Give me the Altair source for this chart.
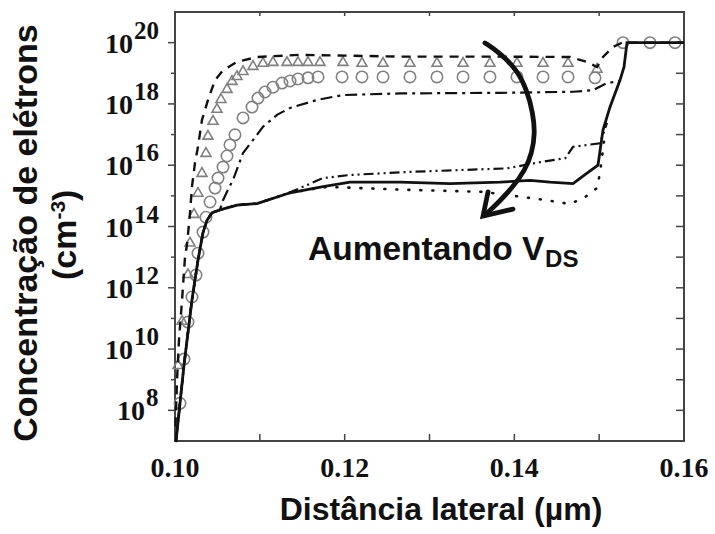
import altair as alt
import pandas as pd

# ---------------- data ----------------
X_DOMAIN = [0.10, 0.16]
Y_DOMAIN = [1e7, 1e21]
W, H = 509, 429

solid_x = [0.10012, 0.10106, 0.10200, 0.10271, 0.10330, 0.10377, 0.10436, 0.10530, 0.10731,
           0.10967, 0.11356, 0.11745, 0.12063, 0.12652, 0.13242, 0.13831, 0.14185, 0.14420,
           0.14692, 0.14857, 0.14986, 0.15045, 0.15128, 0.15246, 0.15293, 0.15328, 0.16000]
solid_n = [1.0e7, 3e9, 4e11, 8e12, 6.3e13, 1.6e14, 2.8e14, 3.5e14, 5.0e14,
           5.6e14, 1.26e15, 2.0e15, 2.8e15, 2.8e15, 2.5e15, 2.8e15, 3.2e15, 2.8e15,
           2.5e15, 5.5e15, 1.0e16, 1.4e17, 8e17, 6e18, 1.6e19, 1.0e20, 1.0e20]

dotted_x = [0.10012, 0.10106, 0.10200, 0.10271, 0.10330, 0.10377, 0.10436, 0.10530, 0.10731,
            0.10967, 0.11356, 0.11745, 0.11945, 0.12652, 0.13631, 0.14385, 0.14656, 0.14833,
            0.14975, 0.15010, 0.15069]
dotted_n = [1.0e7, 3e9, 4e11, 8e12, 6.3e13, 1.6e14, 2.8e14, 3.5e14, 5.0e14,
            5.6e14, 1.26e15, 1.9e15, 1.9e15, 1.6e15, 1.35e15, 7.2e14, 5.4e14, 9.1e14,
            1.8e15, 5.6e15, 1.1e17]

dashdotdot_x = [0.10012, 0.10106, 0.10200, 0.10271, 0.10330, 0.10377, 0.10436, 0.10530, 0.10731,
                0.10967, 0.11356, 0.11745, 0.12063, 0.12735, 0.13914, 0.14303, 0.14600, 0.14692,
                0.15010, 0.15092]
dashdotdot_n = [1.0e7, 3e9, 4e11, 8e12, 6.3e13, 1.6e14, 2.8e14, 3.5e14, 5.0e14,
                5.6e14, 1.3e15, 3.8e15, 4.8e15, 6.0e15, 7.9e15, 1.26e16, 1.7e16, 4.0e16,
                5.2e16, 2.4e17]

dashdot_x = [0.10012, 0.10106, 0.10200, 0.10271, 0.10330, 0.10377, 0.10436, 0.10530, 0.10566,
             0.10625, 0.10684, 0.10802, 0.10919, 0.11037, 0.11202, 0.11356, 0.11674, 0.11980,
             0.12652, 0.13831, 0.14692, 0.14927, 0.15092, 0.15246]
dashdot_n = [1.0e7, 3e9, 4e11, 8e12, 6.3e13, 1.6e14, 2.8e14, 3.5e14, 7.2e14,
             1.6e15, 3.3e15, 2.5e16, 6.6e16, 1.8e17, 4.4e17, 7.4e17, 1.35e18, 1.95e18,
             2.2e18, 2.3e18, 2.5e18, 2.8e18, 4.8e18, 5.6e18]

dashed_x = [0.10006, 0.10024, 0.10047, 0.10083, 0.10118, 0.10141, 0.10177, 0.10200, 0.10236,
            0.10271, 0.10318, 0.10389, 0.10472, 0.10566, 0.10731, 0.10967, 0.11474, 0.12652,
            0.13831, 0.14656, 0.14857, 0.14975, 0.15045, 0.15163, 0.15269, 0.16000]
dashed_n = [3e7, 1e9, 2e10, 4e11, 1e13, 2.5e13, 2.75e14, 2.0e15, 1.2e16,
            4.0e16, 3.0e17, 1.35e18, 6.0e18, 1.26e19, 2.35e19, 3.4e19, 4.0e19, 3.5e19,
            3.5e19, 3.4e19, 2.35e19, 1.6e19, 3.4e19, 7.2e19, 1.0e20, 1.0e20]

circle_x = [0.10059, 0.10106, 0.10153, 0.10200, 0.10248, 0.10271, 0.10330, 0.10365, 0.10413,
            0.10472, 0.10507, 0.10566, 0.10613, 0.10648, 0.10707, 0.10802, 0.10908, 0.10978,
            0.11061, 0.11155, 0.11261, 0.11356, 0.11450, 0.11568, 0.11686, 0.11969, 0.12204,
            0.12452, 0.12770, 0.13088, 0.13395, 0.13713, 0.14031, 0.14338, 0.14633, 0.14951,
            0.15281, 0.15599, 0.15894]
circle_n = [1.7e8, 4.7e9, 7.6e10, 5.0e11, 2.6e12, 1.35e13, 6.6e13, 2.0e14, 6.3e14,
            1.8e15, 3.8e15, 8.7e15, 2.0e16, 4.6e16, 9.8e16, 3.5e17, 7.9e17, 1.55e18,
            2.45e18, 3.5e18, 4.8e18, 5.6e18, 6.5e18, 7.1e18, 7.6e18, 7.6e18, 7.6e18,
            7.6e18, 7.6e18, 7.6e18, 7.6e18, 7.6e18, 7.6e18, 7.6e18, 7.6e18, 7.1e18,
            1.0e20, 1.0e20, 1.0e20]

tri_x = [0.10035, 0.10083, 0.10153, 0.10177, 0.10224, 0.10271, 0.10318, 0.10365, 0.10389,
         0.10448, 0.10495, 0.10542, 0.10613, 0.10672, 0.10731, 0.10802, 0.10919, 0.11037,
         0.11155, 0.11320, 0.11450, 0.11568, 0.11709, 0.11980, 0.12204, 0.12452, 0.12770,
         0.13088, 0.13395, 0.13713, 0.14031, 0.14338, 0.14633, 0.14975]
tri_n = [3.2e9, 8.9e10, 3.0e12, 3.2e13, 2.75e14, 1.35e15, 6.0e15, 2.7e16, 9.8e16,
         3.0e17, 7.4e17, 1.55e18, 3.3e18, 6.0e18, 8.7e18, 1.26e19, 1.86e19, 2.35e19,
         2.5e19, 2.5e19, 2.5e19, 2.5e19, 2.5e19, 2.5e19, 2.35e19, 2.35e19, 2.35e19,
         2.35e19, 2.35e19, 2.35e19, 2.35e19, 2.35e19, 2.35e19, 1.5e19]

arrow_x = [0.13654, 0.13831, 0.14031, 0.14149, 0.14220, 0.14244, 0.14208, 0.14126, 0.13984,
           0.13808, 0.13654]
arrow_n = [9.8e19, 4.6e19, 1.3e19, 2.8e18, 5.0e17, 1.1e17, 2.5e16, 6.9e15, 1.95e15,
           5.9e14, 2.35e14]
head_x = [0.13690, 0.13631, 0.13984]
head_n = [1.35e15, 2.2e14, 3.7e14]

annot_x = [0.11568, 0.14362]
annot_n = [8.05e12, 4.76e12]
annot_text = ["Aumentando V", "DS"]

x_ticks = [0.10, 0.11, 0.12, 0.13, 0.14, 0.15, 0.16]
x_labels = ["0.10", "", "0.12", "", "0.14", "", "0.16"]
y_decades = [1e8, 1e9, 1e10, 1e11, 1e12, 1e13, 1e14, 1e15, 1e16, 1e17, 1e18, 1e19, 1e20]
y_major = [True, False, True, False, True, False, True, False, True, False, True, False, True]
ylab_vals = [1e8, 1e10, 1e12, 1e14, 1e16, 1e18, 1e20]
ylab_exp = ["8", "10", "12", "14", "16", "18", "20"]

# ---------------- chart ----------------
xs = alt.Scale(domain=X_DOMAIN, nice=False, zero=False)
ys = alt.Scale(type="log", domain=Y_DOMAIN, nice=False)
X = lambda f="x": alt.X(f"{f}:Q", scale=xs, axis=None)
Y = lambda f="n": alt.Y(f"{f}:Q", scale=ys, axis=None)
INK = "#111111"
FRAME = "#444444"


def line_layer(xv, nv, width=2.2, dash=None, interp="linear", cap="butt"):
    df = pd.DataFrame({"x": xv, "n": nv, "o": list(range(len(xv)))})
    kw = dict(color=INK, strokeWidth=width, strokeCap=cap, interpolate=interp)
    if dash:
        kw["strokeDash"] = dash
    return alt.Chart(df).mark_line(**kw).encode(x=X(), y=Y(), order="o:Q")


def pts_layer(xv, nv, shape, size):
    df = pd.DataFrame({"x": xv, "n": nv})
    return alt.Chart(df).mark_point(shape=shape, size=size, filled=False,
                                    color="#808080", strokeWidth=1.6,
                                    opacity=1).encode(x=X(), y=Y())


xt = pd.DataFrame({"x": x_ticks, "lab": x_labels})
yt = pd.DataFrame({"n": y_decades, "major": y_major})
yl = pd.DataFrame({"n": ylab_vals, "e": ylab_exp})

ticks_bottom = alt.Chart(xt).mark_rule(color=FRAME, strokeWidth=1.5).encode(
    x=X(), y=alt.value(H - 7), y2=alt.value(H))
ticks_top = alt.Chart(xt).mark_rule(color=FRAME, strokeWidth=1.5).encode(
    x=X(), y=alt.value(0), y2=alt.value(4))
ticks_left_major = alt.Chart(yt).transform_filter("datum.major").mark_rule(
    color=FRAME, strokeWidth=1.5).encode(y=Y(), x=alt.value(-7), x2=alt.value(0))
ticks_left_minor = alt.Chart(yt).transform_filter("!datum.major").mark_rule(
    color=FRAME, strokeWidth=1.5).encode(y=Y(), x=alt.value(-4), x2=alt.value(0))
ticks_right = alt.Chart(yt).mark_rule(color=FRAME, strokeWidth=1.5).encode(
    y=Y(), x=alt.value(W - 8), x2=alt.value(W))

serif = dict(font="Liberation Serif", fontWeight="bold", color=INK)
sans = dict(font="Liberation Sans", fontWeight="bold", color=INK)

xlab = alt.Chart(xt).mark_text(fontSize=28, align="center", baseline="alphabetic",
                               **serif).encode(x=X(), y=alt.value(H + 36), text="lab:N")

base2 = alt.Chart(yl).transform_filter("length(datum.e) > 1").mark_text(
    text="10", fontSize=28, align="right", baseline="alphabetic", dy=10, **serif
).encode(y=Y(), x=alt.value(-42))
exp2 = alt.Chart(yl).transform_filter("length(datum.e) > 1").mark_text(
    fontSize=25, align="left", baseline="alphabetic", dy=-4, dx=1, **serif
).encode(y=Y(), x=alt.value(-42), text="e:N")
base1 = alt.Chart(yl).transform_filter("length(datum.e) == 1").mark_text(
    text="10", fontSize=28, align="right", baseline="alphabetic", dy=10, **serif
).encode(y=Y(), x=alt.value(-30))
exp1 = alt.Chart(yl).transform_filter("length(datum.e) == 1").mark_text(
    fontSize=25, align="left", baseline="alphabetic", dy=-4, dx=1, **serif
).encode(y=Y(), x=alt.value(-30), text="e:N")

one = pd.DataFrame({"t": ["Distância lateral (µm)"]})
xtitle = alt.Chart(one).mark_text(fontSize=32, align="center", baseline="alphabetic",
                                  **sans).encode(text="t:N", x=alt.value(266), y=alt.value(508))

yt1 = alt.Chart(pd.DataFrame({"t": ["Concentração de elétrons"]})).mark_text(
    fontSize=34, angle=270, align="center", baseline="alphabetic", **sans
).encode(text="t:N", x=alt.value(-138), y=alt.value(221))
yt2a = alt.Chart(pd.DataFrame({"t": ["(cm"]})).mark_text(
    fontSize=34, angle=270, align="left", baseline="alphabetic", **sans
).encode(text="t:N", x=alt.value(-99), y=alt.value(268))
yt2b = alt.Chart(pd.DataFrame({"t": ["-3"]})).mark_text(
    fontSize=21, angle=270, align="left", baseline="alphabetic", **sans
).encode(text="t:N", x=alt.value(-110), y=alt.value(207.6))
yt2c = alt.Chart(pd.DataFrame({"t": [")"]})).mark_text(
    fontSize=34, angle=270, align="left", baseline="alphabetic", **sans
).encode(text="t:N", x=alt.value(-99), y=alt.value(189))

ann = pd.DataFrame({"x": annot_x, "n": annot_n, "t": annot_text})
ann_main = alt.Chart(ann).transform_filter("datum.t != 'DS'").mark_text(
    fontSize=33.5, align="left", baseline="alphabetic", **sans).encode(x=X(), y=Y(), text="t:N")
ann_sub = alt.Chart(ann).transform_filter("datum.t == 'DS'").mark_text(
    fontSize=24, align="left", baseline="alphabetic", **sans).encode(x=X(), y=Y(), text="t:N")

layers = [
    ticks_bottom, ticks_top, ticks_left_major, ticks_left_minor, ticks_right,
    pts_layer(circle_x, circle_n, "circle", 130),
    pts_layer(tri_x, tri_n, "triangle-up", 100),
    line_layer(dashed_x, dashed_n, 2.4, [9, 7]),
    line_layer(dashdot_x, dashdot_n, 2.2, [12, 5, 3, 5]),
    line_layer(dashdotdot_x, dashdotdot_n, 2.2, [10, 4, 2, 4, 2, 4]),
    line_layer(dotted_x, dotted_n, 2.6, [1, 11], cap="round"),
    line_layer(solid_x, solid_n, 2.8),
    line_layer(arrow_x, arrow_n, 4.8, interp="basis", cap="round"),
    line_layer(head_x, head_n, 4.8, cap="round"),
    xlab, base2, exp2, base1, exp1, xtitle, yt1, yt2a, yt2b, yt2c, ann_main, ann_sub,
]

chart = alt.layer(*layers).properties(
    width=W, height=H,
    autosize=alt.AutoSizeParams(type="none"),
    padding={"left": 175, "top": 12, "right": 31, "bottom": 93},
    background="white",
).configure_view(stroke=FRAME, strokeWidth=2)

chart.save("out.html", embed_options={"renderer": "svg", "actions": False})
